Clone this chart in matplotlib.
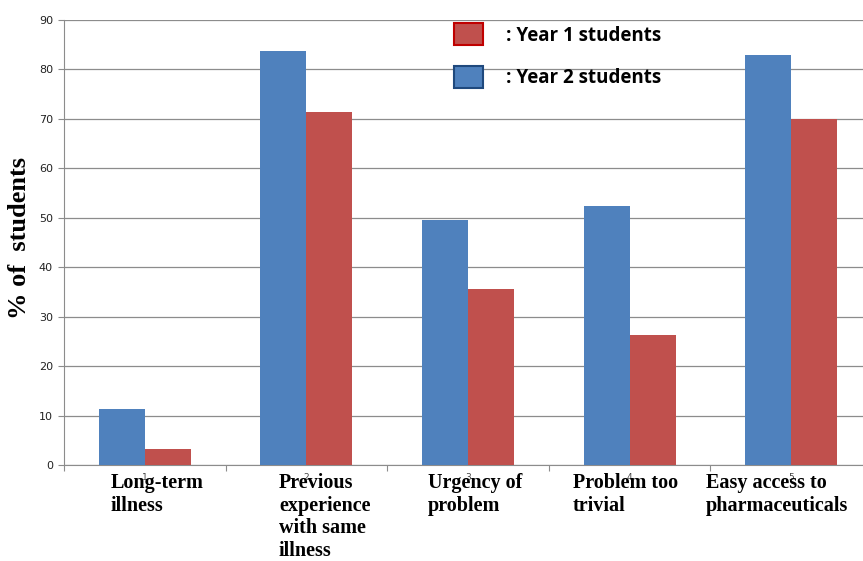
import matplotlib.pyplot as plt
from matplotlib.patches import Rectangle
from matplotlib.transforms import blended_transform_factory

categories = ['Long-term\nillness', 'Previous\nexperience\nwith same\nillness',
              'Urgency of\nproblem', 'Problem too\ntrivial',
              'Easy access to\npharmaceuticals']
cat_numbers = [1, 2, 3, 4, 5]
year2 = [11.3, 83.7, 49.5, 52.4, 82.9]
year1 = [3.2, 71.4, 35.6, 26.3, 70.0]

# left edge of each wrapped category label, relative to the category centre
label_shift = [-0.21, -0.17, -0.25, -0.35, -0.53]

blue = '#4F81BD'
red = '#C0504D'

fig = plt.figure(figsize=(8.63, 5.61), dpi=100)
ax = fig.add_axes([64 / 863, 1 - 465 / 561, 808 / 863, 445 / 561])

w = 0.285
ax.bar([c - w / 2 for c in cat_numbers], year2, width=w, color=blue, zorder=3)
ax.bar([c + w / 2 for c in cat_numbers], year1, width=w, color=red, zorder=3)

ax.set_xlim(0.5, 5.5)
ax.set_ylim(0, 90)
ax.set_yticks(range(0, 91, 10))
ax.yaxis.grid(True, color='#8c8c8c', linewidth=0.9, zorder=0)
ax.tick_params(axis='y', labelsize=8, length=4, color='#8c8c8c', pad=4,
               labelcolor='#222222')
ax.set_xticks([0.5 + i for i in range(6)])
ax.set_xticklabels([])
ax.tick_params(axis='x', length=4, color='#8c8c8c')
for s in ['top', 'right']:
    ax.spines[s].set_visible(False)
for s in ['left', 'bottom']:
    ax.spines[s].set_color('#8c8c8c')

trans = blended_transform_factory(ax.transData, fig.transFigure)
for c, lab, sh in zip(cat_numbers, categories, label_shift):
    ax.text(c, 1 - 478 / 561, str(c), transform=trans, ha='center', va='center',
            fontsize=6.5, color='#444444')
    ax.text(c + sh, 1 - 473 / 561, lab, transform=trans, ha='left', va='top',
            fontsize=14.5, fontweight='bold', family='Liberation Serif',
            linespacing=1.18)

fig.text(20 / 863, 1 - 238 / 561, '% of  students', rotation=90, ha='center',
         va='center', fontsize=19, fontweight='bold', family='Liberation Serif')

# legend drawn as patches + text
fig.patches.append(Rectangle((454 / 863, 1 - 45 / 561), 29 / 863, 22 / 561,
                             transform=fig.transFigure, facecolor=red,
                             edgecolor='#C00000', linewidth=1.5))
fig.patches.append(Rectangle((454 / 863, 1 - 88 / 561), 29 / 863, 22 / 561,
                             transform=fig.transFigure, facecolor=blue,
                             edgecolor='#1F497D', linewidth=1.5))
fig.text(506 / 863, 1 - 36 / 561, ': Year 1 students', ha='left', va='center',
         fontsize=13.5, fontweight='bold', family='Open Sans')
fig.text(506 / 863, 1 - 78 / 561, ': Year 2 students', ha='left', va='center',
         fontsize=13.5, fontweight='bold', family='Open Sans')

fig.savefig('out.png', dpi=100)
